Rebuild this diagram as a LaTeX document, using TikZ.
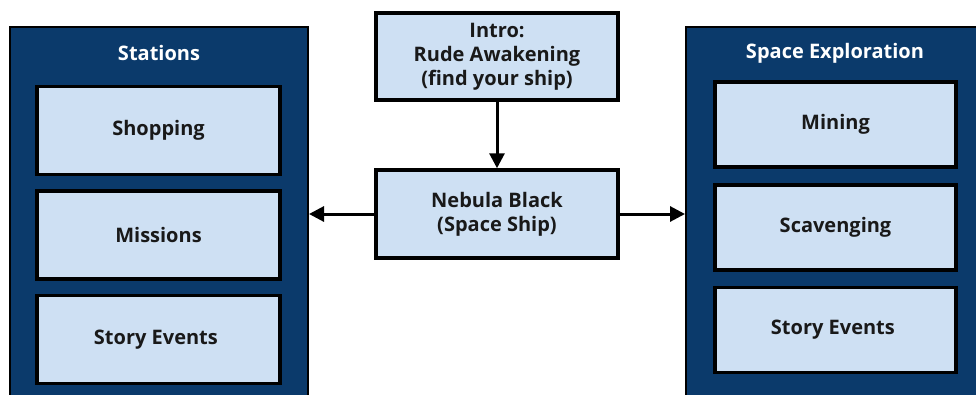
\documentclass[tikz,border=0pt]{standalone}
\usepackage{fontspec}
\setmainfont{Open Sans}
\usetikzlibrary{arrows.meta}

\definecolor{navy}{HTML}{0B3A6B}
\definecolor{paleblue}{HTML}{CEE0F3}

\tikzset{
    panel/.style={draw=black, line width=2pt, fill=navy, inner sep=0pt},
    panelTitle/.style={text=white, font=\fontsize{20}{23}\selectfont\bfseries},
    card/.style={draw=black, line width=3.5pt, fill=paleblue, inner sep=0pt,
        align=center, text=black!90, font=\fontsize{20}{24}\selectfont\bfseries},
    link/.style={line width=3pt, -{Triangle[length=15pt,width=15pt]}}
}

\begin{document}
\begin{tikzpicture}[x=1pt, y=-1pt]
        \useasboundingbox (0,0) rectangle (976,394);
        \clip (0,0) rectangle (976,394);
        \fill[white] (0,0) rectangle (976,394);

        % Stations
        \node[panel, minimum width=298pt, minimum height=393pt] (stations) at (159,223.5) {};
        \node[panelTitle] (stationsTitle) at (159,53) {Stations};
        \foreach \i/\y/\val in {
            1/130.5/Shopping,
            2/235/Missions,
            3/339.5/Story Events
            } {
            \node[card, minimum width=243pt, minimum height=88pt] (st\i) at (158.5,\y) {\val};
        }

        % Space Exploration
        \node[panel, minimum width=314pt, minimum height=393pt] (explore) at (843,223.5) {};
        \node[panelTitle] (exploreTitle) at (835,53) {Space Exploration};
        \foreach \i/\y/\val in {
            1/124.5/Mining,
            2/227.5/Scavenging,
            3/330/Story Events
            } {
            \node[card, minimum width=241pt, minimum height=85pt] (ex\i) at (835.5,\y) {\val};
        }

        % Intro und Schiff
        \node[card, minimum width=242pt, minimum height=87pt] (intro) at (497,56.5)
            {Intro:\\Rude Awakening\\(find your ship)};
        \node[card, minimum width=242pt, minimum height=88pt] (ship) at (497,214)
            {Nebula Black\\(Space Ship)};

        \draw[link] (intro) -- (ship);
        \draw[link] (ship.west) -- (ship.west -| stations.east);
        \draw[link] (ship.east) -- (ship.east -| explore.west);
\end{tikzpicture}
\end{document}
